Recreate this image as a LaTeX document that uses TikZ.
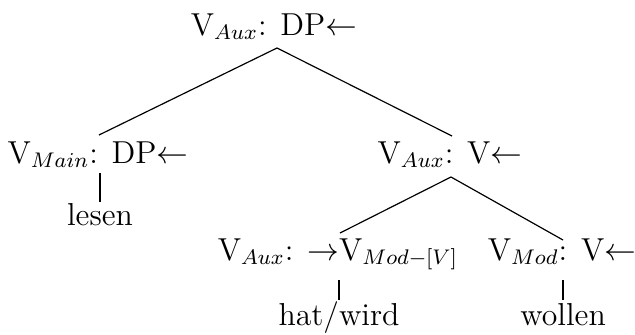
\documentclass[12pt,tikz,border=0pt]{standalone}
\usetikzlibrary{calc}
\begin{document}
\begin{tikzpicture}[x=0.378pt,y=-0.378pt,
  lbl/.style={inner sep=0pt,anchor=base},
  edge/.style={line width=0.45pt}]
\useasboundingbox (0,0) rectangle (635,335);
\node[lbl] (root) at (274,35) {$\mathrm{V}_{Aux}$: DP$\leftarrow$};
\node[lbl] (L) at (98,163) {$\mathrm{V}_{Main}$: DP$\leftarrow$};
\node[lbl] (R) at (450,163) {$\mathrm{V}_{Aux}$: V$\leftarrow$};
\node[lbl] (lesen) at (100,225) {lesen};
\node[lbl] (RL) at (338,260) {$\mathrm{V}_{Aux}$: $\rightarrow$V$_{Mod-[V]}$};
\node[lbl] (RR) at (562,260) {$\mathrm{V}_{Mod}$: V$\leftarrow$};
\node[lbl] (hat) at (339,325) {hat/wird};
\node[lbl] (wollen) at (563,325) {wollen};
\draw[edge] ($(root.base)+(3,13)$) -- ($(L.base)+(1,-28)$);
\draw[edge] ($(root.base)+(3,13)$) -- ($(R.base)+(2,-27)$);
\draw[edge] ($(L.base)+(2,10)$) -- ($(lesen.base)+(0,-23)$);
\draw[edge] ($(R.base)+(1,14)$) -- ($(RL.base)+(2,-27)$);
\draw[edge] ($(R.base)+(1,14)$) -- ($(RR.base)+(1,-20)$);
\draw[edge] ($(RL.base)+(1,20)$) -- ($(hat.base)+(0,-25)$);
\draw[edge] ($(RR.base)+(1,20)$) -- ($(wollen.base)+(0,-25)$);
\end{tikzpicture}
\end{document}
